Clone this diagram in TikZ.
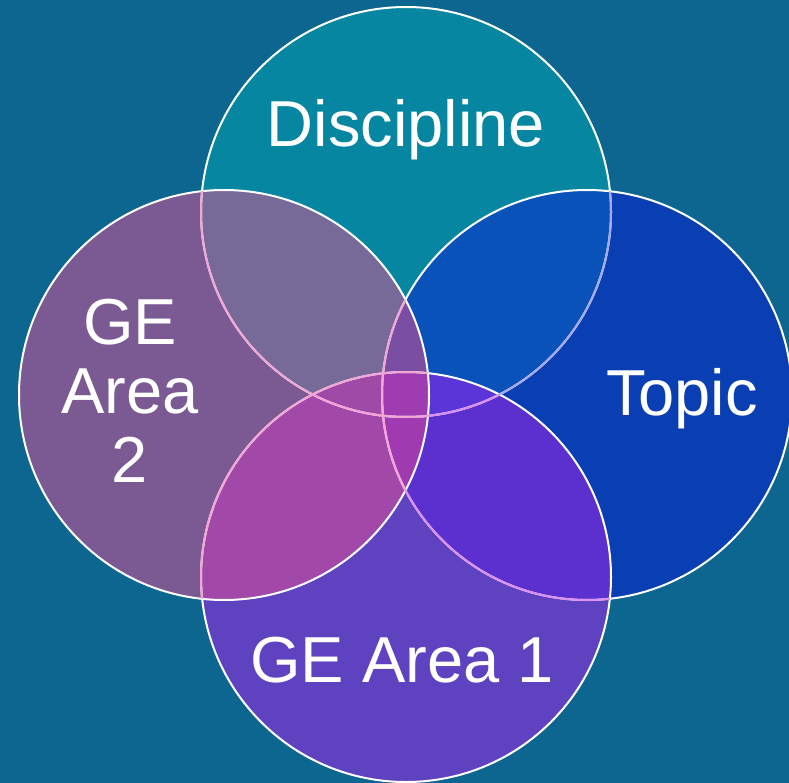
\documentclass[tikz,border=0pt]{standalone}
\usepackage{fontspec}
\setmainfont{Liberation Sans}
\usepackage{xcolor}
\usepackage{tikz}
\usetikzlibrary{positioning}

\definecolor{bgblue}{HTML}{0C6690}
\definecolor{discol}{HTML}{0686A0}
\definecolor{topcol}{HTML}{0A3EB3}
\definecolor{geonecol}{HTML}{5E42BF}
\definecolor{getwocol}{HTML}{7B5A94}
\definecolor{dtcol}{HTML}{0852B9}
\definecolor{dgtcol}{HTML}{786A98}
\definecolor{dgocol}{HTML}{7F4AA8}
\definecolor{tgocol}{HTML}{5C30CE}
\definecolor{gogtcol}{HTML}{A148A8}
\definecolor{tgtcol}{HTML}{7A4EA2}
\definecolor{dtgtcol}{HTML}{7A4EA2}
\definecolor{dgogtcol}{HTML}{A04AA8}
\definecolor{dtgocol}{HTML}{5B35D8}
\definecolor{tgogtcol}{HTML}{A03AB0}
\definecolor{allcol}{HTML}{A03CB2}
\definecolor{pinkline}{HTML}{F2A6D6}
\definecolor{lilacline}{HTML}{A6A8F0}
\definecolor{violetline}{HTML}{DC90F2}

\tikzset{label/.style={text=white, font=\fontsize{65}{69}\selectfont, inner sep=0pt},
  ring/.style={draw=white, line width=2pt}}

\newcommand{\rad}{205}

\begin{document}
\begin{tikzpicture}[x=1pt, y=-1pt]
  \fill[bgblue] (0,0) rectangle (789,783);
  \useasboundingbox (0,0) rectangle (789,783);

  \coordinate (disc) at (406,212);
  \coordinate (topic) at (587,395);
  \coordinate (geone) at (406,577);
  \coordinate (getwo) at (224,395);

  % single circles
  \fill[discol] (disc) circle (\rad);
  \fill[topcol] (topic) circle (\rad);
  \fill[geonecol] (geone) circle (\rad);
  \fill[getwocol] (getwo) circle (\rad);

  % pairs
  \begin{scope}
    \clip (disc) circle (\rad);
    \fill[dtcol] (topic) circle (\rad);
    \fill[dgtcol] (getwo) circle (\rad);
    \fill[dgocol] (geone) circle (\rad);
  \end{scope}
  \begin{scope}
    \clip (geone) circle (\rad);
    \fill[tgocol] (topic) circle (\rad);
    \fill[gogtcol] (getwo) circle (\rad);
  \end{scope}
  \begin{scope}
    \clip (topic) circle (\rad);
    \fill[tgtcol] (getwo) circle (\rad);
  \end{scope}

  % triples
  \begin{scope}
    \clip (disc) circle (\rad);
    \begin{scope}
      \clip (topic) circle (\rad);
      \fill[dtgtcol] (getwo) circle (\rad);
      \fill[dtgocol] (geone) circle (\rad);
    \end{scope}
    \begin{scope}
      \clip (geone) circle (\rad);
      \fill[dgogtcol] (getwo) circle (\rad);
    \end{scope}
  \end{scope}
  \begin{scope}
    \clip (topic) circle (\rad);
    \clip (geone) circle (\rad);
    \fill[tgogtcol] (getwo) circle (\rad);
  \end{scope}

  % all four
  \begin{scope}
    \clip (disc) circle (\rad);
    \clip (topic) circle (\rad);
    \clip (geone) circle (\rad);
    \fill[allcol] (getwo) circle (\rad);
  \end{scope}

  % outlines
  \foreach \c in {disc,topic,geone,getwo}
    \draw[ring] (\c) circle (\rad);
  \begin{scope}
    \clip (topic) circle (\rad);
    \draw[ring, draw=lilacline] (disc) circle (\rad);
  \end{scope}
  \begin{scope}
    \clip (geone) circle (\rad);
    \draw[ring, draw=violetline] (disc) circle (\rad);
    \draw[ring, draw=violetline] (topic) circle (\rad);
  \end{scope}
  \begin{scope}
    \clip (getwo) circle (\rad);
    \draw[ring, draw=pinkline] (disc) circle (\rad);
    \draw[ring, draw=pinkline] (topic) circle (\rad);
    \draw[ring, draw=pinkline] (geone) circle (\rad);
  \end{scope}

  % labels
  \node[label, anchor=base] (discl) at (406,147) {Discipline};
  \node[label, anchor=base] (topicl) at (682,415) {Topic};
  \node[label, anchor=base] (geonel) at (402,682) {GE Area 1};
  \node[label, align=center] (getwol) at (130,391) {GE\\Area\\2};
\end{tikzpicture}
\end{document}
